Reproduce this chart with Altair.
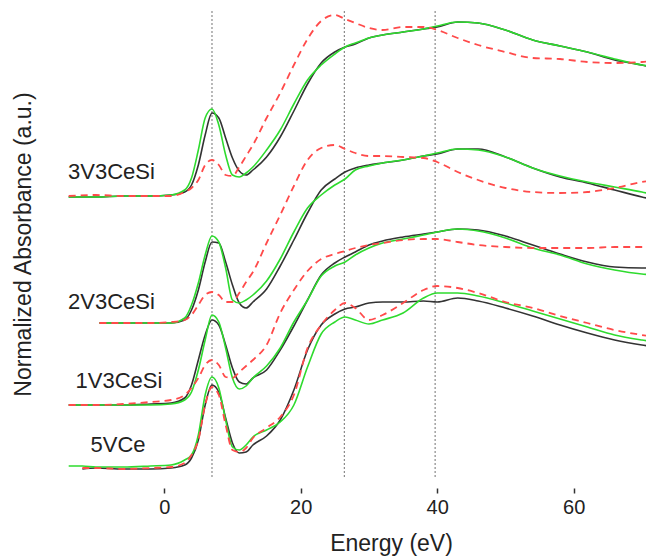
import altair as alt
import pandas as pd

# ---------------- data ----------------
ENERGY = [-14, -10, -6, -2, 1, 3, 4, 5, 6, 7, 8, 9, 10, 11, 12, 13, 15, 17, 19, 21,
          23, 25, 26.5, 28, 30, 32, 35, 38, 40, 43, 46, 50, 54, 58, 62, 66, 70, 72]
ENERGY_2V = [-9.5, -6, -2, 1, 3, 4, 5, 6, 7, 8, 9, 10, 11, 12, 13, 15, 17, 19, 21,
             23, 25, 26.5, 28, 30, 32, 35, 38, 40, 43, 46, 50, 54, 58, 62, 66, 70, 72]
ENERGY_5V = [-14, -12, -10, -6, -2, 1, 3, 4, 5, 6, 7, 8, 9, 10, 11, 12, 13, 15, 17, 19, 21,
             23, 25, 26.5, 28, 30, 32, 35, 38, 40, 43, 46, 50, 54, 58, 62, 66, 70, 72]

v3_black = [2.90, 2.90, 2.91, 2.91, 2.92, 2.95, 3.02, 3.22, 3.52, 3.74, 3.69, 3.49, 3.29, 3.16, 3.12, 3.17, 3.30, 3.50, 3.76, 4.03,
            4.24, 4.35, 4.40, 4.43, 4.49, 4.52, 4.55, 4.58, 4.60, 4.65, 4.64, 4.57, 4.47, 4.41, 4.35, 4.27, 4.22, 4.19]
v3_green = [2.90, 2.90, 2.91, 2.91, 2.92, 2.97, 3.09, 3.37, 3.69, 3.78, 3.62, 3.32, 3.12, 3.10, 3.14, 3.20, 3.37, 3.57, 3.83, 4.07,
            4.22, 4.33, 4.40, 4.44, 4.49, 4.52, 4.55, 4.58, 4.61, 4.65, 4.64, 4.57, 4.47, 4.41, 4.35, 4.28, 4.22, 4.20]
v3_red = [2.91, 2.92, 2.91, 2.91, 2.91, 2.95, 2.99, 3.07, 3.22, 3.27, 3.22, 3.12, 3.11, 3.20, 3.31, 3.42, 3.69, 3.94, 4.22, 4.48,
          4.66, 4.72, 4.68, 4.64, 4.59, 4.57, 4.60, 4.60, 4.57, 4.49, 4.42, 4.35, 4.29, 4.28, 4.25, 4.24, 4.25, 4.27]

v2_black = [1.64, 1.64, 1.64, 1.64, 1.67, 1.77, 1.97, 2.25, 2.45, 2.44, 2.25, 2.02, 1.84, 1.79, 1.85, 1.98, 2.21, 2.47, 2.74, 2.97,
            3.08, 3.15, 3.19, 3.22, 3.24, 3.27, 3.31, 3.33, 3.38, 3.38, 3.30, 3.19, 3.10, 3.04, 2.97, 2.90, 2.87]
v2_green = [1.64, 1.64, 1.64, 1.64, 1.69, 1.82, 2.04, 2.32, 2.51, 2.45, 2.19, 1.87, 1.84, 1.87, 1.92, 2.06, 2.28, 2.55, 2.79, 2.92,
            3.02, 3.08, 3.17, 3.21, 3.24, 3.27, 3.31, 3.34, 3.38, 3.37, 3.30, 3.19, 3.11, 3.05, 3.00, 2.95, 2.92]
v2_red = [1.64, 1.64, 1.64, 1.65, 1.67, 1.72, 1.82, 1.92, 1.95, 1.92, 1.85, 1.85, 1.94, 2.05, 2.15, 2.44, 2.72, 3.01, 3.27, 3.39,
          3.42, 3.38, 3.34, 3.31, 3.31, 3.30, 3.29, 3.25, 3.15, 3.07, 2.99, 2.95, 2.94, 2.95, 2.99, 3.05, 3.07]

v1_black = [0.82, 0.82, 0.82, 0.83, 0.84, 0.89, 1.02, 1.27, 1.52, 1.67, 1.62, 1.42, 1.19, 1.05, 1.03, 1.09, 1.17, 1.37, 1.61, 1.87,
            2.12, 2.24, 2.30, 2.35, 2.42, 2.46, 2.50, 2.53, 2.55, 2.58, 2.57, 2.51, 2.42, 2.33, 2.25, 2.20, 2.19, 2.19]
v1_green = [0.82, 0.82, 0.82, 0.82, 0.83, 0.87, 0.95, 1.17, 1.47, 1.72, 1.65, 1.39, 1.09, 0.98, 1.01, 1.09, 1.21, 1.39, 1.65, 1.87,
            2.11, 2.21, 2.25, 2.32, 2.39, 2.44, 2.48, 2.52, 2.55, 2.58, 2.56, 2.49, 2.39, 2.32, 2.23, 2.17, 2.13, 2.12]
v1_red = [0.82, 0.82, 0.83, 0.85, 0.87, 0.92, 0.99, 1.09, 1.22, 1.27, 1.22, 1.10, 1.09, 1.15, 1.21, 1.27, 1.42, 1.74, 1.97, 2.16,
          2.28, 2.33, 2.36, 2.39, 2.42, 2.44, 2.47, 2.48, 2.48, 2.45, 2.42, 2.40, 2.39, 2.39, 2.39, 2.40, 2.40, 2.40]

v5_black = [None, 0.18, 0.19, 0.18, 0.18, 0.19, 0.22, 0.29, 0.47, 0.82, 1.02, 0.95, 0.69, 0.44, 0.34, 0.35, 0.42, 0.51, 0.67, 0.97,
            1.37, 1.62, 1.73, 1.78, 1.80, 1.84, 1.85, 1.85, 1.86, 1.85, 1.89, 1.86, 1.79, 1.71, 1.62, 1.54, 1.47, 1.42, 1.40]
v5_green = [0.21, 0.21, 0.20, 0.20, 0.21, 0.22, 0.27, 0.32, 0.52, 0.92, 1.10, 0.99, 0.67, 0.40, 0.37, 0.42, 0.50, 0.57, 0.65, 0.82,
            1.20, 1.53, 1.65, 1.70, 1.67, 1.63, 1.67, 1.74, 1.89, 1.94, 1.94, 1.91, 1.84, 1.76, 1.68, 1.60, 1.52, 1.47, 1.45]
v5_red = [None, 0.19, 0.19, 0.18, 0.19, 0.20, 0.24, 0.32, 0.47, 0.82, 1.00, 0.92, 0.62, 0.37, 0.35, 0.39, 0.49, 0.59, 0.70, 0.92,
          1.39, 1.62, 1.77, 1.84, 1.79, 1.67, 1.72, 1.84, 1.97, 2.01, 1.99, 1.94, 1.85, 1.79, 1.71, 1.64, 1.57, 1.52, 1.50]

SAMPLE_NAMES = ["3V3CeSi", "2V3CeSi", "1V3CeSi", "5VCe"]
LABEL_ENERGY = [-14.1, -14.1, -13.0, -10.8]
LABEL_ABS = [3.15, 1.85, 1.06, 0.42]
REF_ENERGIES = [7.0, 26.4, 39.7]

# ---------------- tables ----------------
samples = [
    ("3V3CeSi", ENERGY, {"black": v3_black, "green": v3_green, "red": v3_red}),
    ("2V3CeSi", ENERGY_2V, {"black": v2_black, "green": v2_green, "red": v2_red}),
    ("1V3CeSi", ENERGY, {"black": v1_black, "green": v1_green, "red": v1_red}),
    ("5VCe", ENERGY_5V, {"black": v5_black, "green": v5_green, "red": v5_red}),
]
rows = []
for name, energies, series in samples:
    for sname, vals in series.items():
        for e, v in zip(energies, vals):
            if v is not None:
                rows.append({"sample": name, "series": sname, "energy": e, "absorbance": v})
df = pd.DataFrame(rows)

labels_df = pd.DataFrame({"label": SAMPLE_NAMES, "energy": LABEL_ENERGY, "absorbance": LABEL_ABS})
refs_df = pd.DataFrame({"energy": REF_ENERGIES})

FONT = "Liberation Sans"

x_enc = alt.X(
    "energy:Q",
    scale=alt.Scale(domain=[-14.1, 70.6], nice=False, zero=False),
    axis=alt.Axis(
        values=[0, 20, 40, 60], domain=False, grid=False,
        tickSize=5, tickColor="#333", tickWidth=1.5,
        labelFontSize=20, labelFont=FONT, labelColor="#222", labelPadding=4,
        title="Energy (eV)", titleFont=FONT, titleFontSize=23, titleFontWeight="normal",
        titleColor="#222", titleX=323, titleY=62, titleBaseline="alphabetic",
    ),
)
y_enc = alt.Y(
    "absorbance:Q",
    scale=alt.Scale(domain=[-0.01, 4.79], nice=False, zero=False),
    axis=alt.Axis(
        labels=False, ticks=False, domain=False, grid=False,
        title="Normalized Absorbance (a.u.)", titleFont=FONT, titleFontSize=23,
        titleFontWeight="normal", titleColor="#222",
        titleX=-45, titleY=236, titleBaseline="middle",
    ),
)

base = alt.Chart(df)


def line_layer(series, color, width, dash=None):
    kwargs = dict(color=color, strokeWidth=width, interpolate="monotone", clip=True)
    if dash is not None:
        kwargs["strokeDash"] = dash
    return (
        base.transform_filter(alt.datum.series == series)
        .mark_line(**kwargs)
        .encode(x=x_enc, y=y_enc, detail="sample:N")
    )


rules = (
    alt.Chart(refs_df)
    .mark_rule(color="#8a8a8a", strokeWidth=1.2, strokeDash=[2, 2])
    .encode(x=alt.X("energy:Q"), y=alt.datum(0.10), y2=alt.datum(4.77))
)

texts = (
    alt.Chart(labels_df)
    .mark_text(align="left", baseline="middle", font=FONT, fontSize=22, color="#222")
    .encode(x=alt.X("energy:Q"), y=alt.Y("absorbance:Q"), text="label:N")
)

chart = (
    alt.layer(
        rules,
        line_layer("black", "#333333", 1.6),
        line_layer("green", "#2edb2e", 1.6),
        line_layer("red", "#ff4a4a", 1.8, [7, 5]),
        texts,
    )
    .properties(
        width=578,
        height=480,
        autosize=alt.AutoSizeParams(type="none"),
        padding={"left": 60, "top": 0, "right": 0, "bottom": 68},
        background="white",
    )
    .configure_view(stroke=None)
)

chart.save("out.html", embed_options={"renderer": "svg", "actions": False})
